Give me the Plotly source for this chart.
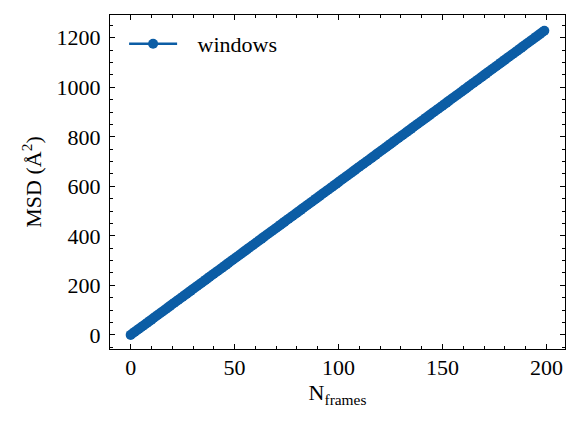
import plotly.graph_objects as go

n_frames = list(range(200))
msd = [
    0.0, 6.3, 12.4, 18.6, 24.7, 30.9, 37.0, 43.2, 49.3, 55.5,
    61.6, 67.9, 74.1, 80.2, 86.4, 92.5, 98.8, 104.9, 111.1, 117.2,
    123.4, 129.6, 135.7, 141.9, 148.1, 154.2, 160.5, 166.6, 172.8, 178.9,
    185.1, 191.3, 197.4, 203.6, 209.8, 215.9, 222.1, 228.3, 234.5, 240.6,
    246.8, 253.0, 259.1, 265.3, 271.5, 277.7, 283.8, 290.0, 296.2, 302.3,
    308.5, 314.7, 320.9, 327.0, 333.2, 339.4, 345.5, 351.7, 357.9, 364.1,
    370.2, 376.4, 382.6, 388.8, 394.9, 401.1, 407.3, 413.4, 419.6, 425.8,
    432.0, 438.1, 444.3, 450.5, 456.6, 462.8, 469.0, 475.2, 481.3, 487.5,
    493.7, 499.8, 506.0, 512.2, 518.4, 524.5, 530.7, 536.9, 543.0, 549.2,
    555.4, 561.6, 567.7, 573.9, 580.1, 586.3, 592.4, 598.6, 604.8, 610.9,
    617.1, 623.3, 629.5, 635.6, 641.8, 648.0, 654.1, 660.3, 666.5, 672.7,
    678.8, 685.0, 691.2, 697.4, 703.5, 709.7, 715.9, 722.0, 728.2, 734.4,
    740.6, 746.7, 752.9, 759.1, 765.3, 771.4, 777.6, 783.8, 789.9, 796.1,
    802.3, 808.5, 814.6, 820.8, 827.0, 833.2, 839.3, 845.5, 851.7, 857.8,
    864.0, 870.2, 876.4, 882.5, 888.7, 894.9, 901.0, 907.2, 913.4, 919.6,
    925.7, 931.9, 938.1, 944.2, 950.4, 956.6, 962.8, 968.9, 975.1, 981.3,
    987.5, 993.6, 999.8, 1006.0, 1012.1, 1018.3, 1024.5, 1030.7, 1036.8, 1043.0,
    1049.2, 1055.3, 1061.5, 1067.7, 1073.9, 1080.0, 1086.2, 1092.4, 1098.5, 1104.7,
    1110.9, 1117.1, 1123.2, 1129.4, 1135.6, 1141.7, 1147.9, 1154.1, 1160.3, 1166.4,
    1172.6, 1178.8, 1185.0, 1191.1, 1197.3, 1203.5, 1209.6, 1215.8, 1222.0, 1228.2,
]
x_ticks = [0, 50, 100, 150, 200]
y_ticks = [0, 200, 400, 600, 800, 1000, 1200]
series_name = "windows"

BLUE = "#0C5DA5"
FONT = "Liberation Serif"
FS = 22

fig = go.Figure()
fig.add_trace(go.Scatter(
    x=n_frames, y=msd, mode="lines+markers",
    name="\u2002\u2009" + series_name,
    line=dict(color=BLUE, width=2.5),
    marker=dict(color=BLUE, size=10),
))

axis_common = dict(
    showgrid=False, zeroline=False, showline=True, linecolor="black", linewidth=1.2,
    mirror="allticks", ticks="inside", ticklen=5, tickwidth=1, tickcolor="black",
    tickfont=dict(family=FONT, size=FS, color="black"), automargin=False,
)

# page body has an 8px margin, so the figure is sized 572x415 and shifted
fig.update_layout(
    width=572, height=415,
    margin=dict(l=102, r=15, t=7, b=74),
    paper_bgcolor="white", plot_bgcolor="white",
    font=dict(family=FONT, color="black"),
    showlegend=True,
    legend=dict(x=0.031, y=0.976, xanchor="left", yanchor="top", itemwidth=48,
                bgcolor="rgba(0,0,0,0)", font=dict(family=FONT, size=FS)),
    xaxis=dict(axis_common, range=[-9.95, 208.95], tickvals=x_ticks, ticklabelstandoff=-2,
               minor=dict(ticks="inside", dtick=10, ticklen=3, tickcolor="black", showgrid=False),
               title=dict(text="N<sub>frames</sub>", font=dict(family=FONT, size=FS), standoff=6)),
    yaxis=dict(axis_common, range=[-57, 1292], tickvals=y_ticks, ticklabelstandoff=4,
               minor=dict(ticks="inside", dtick=50, ticklen=3, tickcolor="black", showgrid=False),
               title=dict(text="MSD (Å<sup>2</sup>)", font=dict(family=FONT, size=FS), standoff=8)),
)

fig.write_html("out.html")
